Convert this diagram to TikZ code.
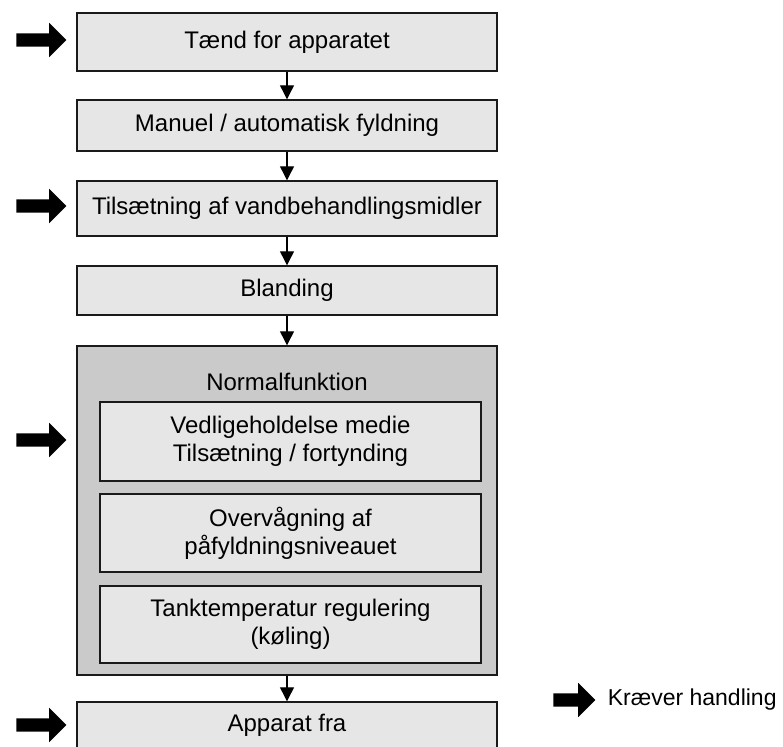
\documentclass[tikz,border=0pt]{standalone}
\usepackage{fontspec}
\setmainfont{Liberation Sans}
\usetikzlibrary{shapes,arrows.meta,positioning}
\definecolor{boxgray}{HTML}{E6E6E6}
\definecolor{framegray}{HTML}{CACACA}
\definecolor{edgeblack}{HTML}{1A1A1A}
\newcommand{\flowfont}{\fontsize{24}{28}\selectfont}

\tikzset{
  stepbox/.style={draw=edgeblack, fill=boxgray, line width=1.4pt, minimum width=420pt,
    inner sep=0pt, align=center, font=\flowfont},
  innerbox/.style={stepbox, minimum width=381pt},
  flow/.style={-{Triangle[length=14pt,width=14pt]}, line width=1.2pt},
  actarrow/.style={single arrow, fill=black, draw=none, inner sep=0pt, text height=13pt,
    text depth=0pt, minimum height=50pt, single arrow head extend=10.5pt}
}

\begin{document}
\begin{tikzpicture}[x=1pt,y=-1pt]
  \clip (0,0) rectangle (783,746);

  % Steps
  \node[stepbox, minimum height=58pt] (tand) at (287,42) {Tænd for apparatet};
  \node[stepbox, minimum height=51pt] (fyld) at (287,125.5) {Manuel / automatisk fyldning};
  \node[stepbox, minimum height=55pt] (tils) at (287,208.5) {Tilsætning af vandbehandlingsmidler};
  \node[stepbox, minimum height=49pt] (bland) at (287,290.5) {Blanding};

  % Normal operation
  \node[stepbox, fill=framegray, minimum height=329pt] (normal) at (287,510.5) {};
  \node[font=\flowfont] (normaltxt) at (287,382) {Normalfunktion};
  \node[innerbox, minimum height=79pt] (medie) at (290.5,441.5) {Vedligeholdelse medie\\Tilsætning / fortynding};
  \node[innerbox, minimum height=78pt] (niveau) at (290.5,533) {Overvågning af\\påfyldningsniveauet};
  \node[innerbox, minimum height=77pt] (temp) at (290.5,624.5) {Tanktemperatur regulering\\(køling)};

  \node[stepbox, minimum height=46pt] (fra) at (287,725) {Apparat fra};

  % Flow
  \draw[flow] (tand) -- (fyld);
  \draw[flow] (fyld) -- (tils);
  \draw[flow] (tils) -- (bland);
  \draw[flow] (bland) -- (normal);
  \draw[flow] (normal) -- (fra);

  % Action markers
  \node[actarrow] (act1) at (38,40) {};
  \node[actarrow] (act2) at (38,206) {};
  \node[actarrow] (act3) at (38,440) {};
  \node[actarrow] (act4) at (38,725) {};

  % Legend
  \node[actarrow, minimum height=42pt] (legarrow) at (571,700) {};
  \node[right=12pt of legarrow, inner sep=0pt, font=\fontsize{23}{27}\selectfont] (legtxt) {Kræver handling};
\end{tikzpicture}
\end{document}
